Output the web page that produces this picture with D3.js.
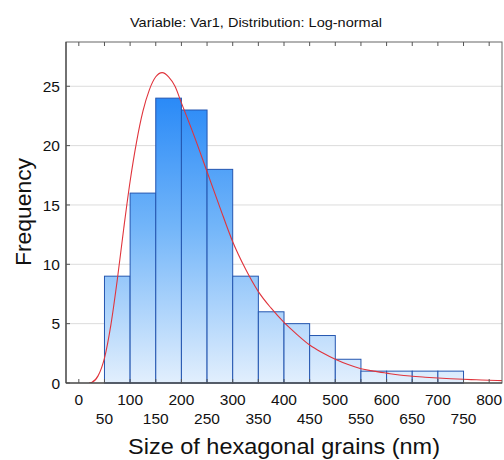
<!DOCTYPE html>
<html><head><meta charset="utf-8">
<script src="https://cdn.jsdelivr.net/npm/d3@7"></script>
<style>body{margin:0;background:#fff}svg{display:block}text{font-family:"Liberation Sans",Arial,sans-serif;fill:#111}</style>
</head><body><svg id="c" width="504" height="460"></svg>
<script>
const binStarts = [50,100,150,200,250,300,350,400,450,500,550,600,650,700];
const binWidth = 50;
const counts = [9,16,24,23,18,9,6,5,4,2,1,1,1,1];
const curveX = [20,25,37.5,50,62.5,75,87.5,100,112.5,125,137.5,150,162.5,175,187.5,200,225,250,275,300,325,350,375,400,425,450,475,500,525,550,575,600,625,650,675,700,725,750,775,800,825];
const curveY = [0,0.05,0.6,2.1,4.9,8.7,13.0,17.0,20.3,22.9,24.7,25.8,26.15,25.8,25.0,23.6,20.8,17.8,14.8,11.9,9.6,7.7,6.3,5.1,4.1,3.2,2.55,2.0,1.55,1.2,1.0,0.83,0.67,0.57,0.49,0.42,0.36,0.31,0.27,0.23,0.2];
const xTicksTop = [0,100,200,300,400,500,600,700,800];
const xTicksBottom = [50,150,250,350,450,550,650,750];
const yTicks = [0,5,10,15,20,25];

const svg = d3.select("#c");
const L=66, T=42, R=502, B=383;
const x = d3.scaleLinear().domain([-25,825]).range([L,R]);
const y = d3.scaleLinear().domain([0,28.73]).range([B,T]);

const defs = svg.append("defs");
const g = defs.append("linearGradient").attr("id","bg").attr("gradientUnits","userSpaceOnUse")
  .attr("x1",0).attr("x2",0).attr("y1",y(24)).attr("y2",y(0));
g.append("stop").attr("offset","0%").attr("stop-color","#2a8af7");
g.append("stop").attr("offset","45%").attr("stop-color","#72b5f9");
g.append("stop").attr("offset","100%").attr("stop-color","#e2effd");
defs.append("clipPath").attr("id","clip").append("rect").attr("x",L).attr("y",T).attr("width",R-L).attr("height",B-T);

// grid
svg.append("g").selectAll("line").data(yTicks.filter(d=>d>0)).join("line")
  .attr("x1",L).attr("x2",R).attr("y1",d=>y(d)).attr("y2",d=>y(d))
  .attr("stroke","#dcdcdc").attr("stroke-width",1);

// bars
svg.append("g").selectAll("rect").data(binStarts).join("rect")
  .attr("x",(d)=>x(d)).attr("width",d=>x(d+binWidth)-x(d))
  .attr("y",(d,i)=>y(counts[i])).attr("height",(d,i)=>y(0)-y(counts[i]))
  .attr("fill","url(#bg)").attr("stroke","#2456b0").attr("stroke-width",1);

// curve
const pts = curveX.map((v,i)=>[v,curveY[i]]);
svg.append("path").datum(pts).attr("clip-path","url(#clip)")
  .attr("d",d3.line().x(d=>x(d[0])).y(d=>y(d[1])).curve(d3.curveMonotoneX))
  .attr("fill","none").attr("stroke","#e0343c").attr("stroke-width",1.1);

// frame
svg.append("rect").attr("x",L).attr("y",T).attr("width",R-L).attr("height",B-T)
  .attr("fill","none").attr("stroke","#666").attr("stroke-width",1);
svg.append("line").attr("x1",L).attr("x2",L).attr("y1",T).attr("y2",B).attr("stroke","#333");
svg.append("line").attr("x1",L).attr("x2",R).attr("y1",B).attr("y2",B).attr("stroke","#333");

// ticks
const allX = d3.range(0,801,50);
svg.append("g").selectAll("line").data(allX).join("line")
  .attr("x1",d=>x(d)).attr("x2",d=>x(d)).attr("y1",B).attr("y2",B-4).attr("stroke","#555");
svg.append("g").selectAll("line").data(allX).join("line")
  .attr("x1",d=>x(d)).attr("x2",d=>x(d)).attr("y1",T).attr("y2",T+4).attr("stroke","#555");
svg.append("g").selectAll("line").data(yTicks).join("line")
  .attr("x1",L).attr("x2",L+4).attr("y1",d=>y(d)).attr("y2",d=>y(d)).attr("stroke","#555");

// tick labels
svg.append("g").selectAll("text").data(yTicks).join("text")
  .attr("x",L-6).attr("y",d=>y(d)).attr("dy","0.36em").attr("text-anchor","end")
  .attr("font-size",15.5).text(d=>d);
svg.append("g").selectAll("text").data(xTicksTop).join("text")
  .attr("x",d=>x(d)).attr("y",405).attr("text-anchor","middle").attr("font-size",15.5).text(d=>d);
svg.append("g").selectAll("text").data(xTicksBottom).join("text")
  .attr("x",d=>x(d)).attr("y",424).attr("text-anchor","middle").attr("font-size",15.5).text(d=>d);

// titles
svg.append("text").attr("x",256).attr("y",27).attr("text-anchor","middle").attr("font-size",13)
  .attr("textLength",252).attr("lengthAdjust","spacingAndGlyphs")
  .text("Variable: Var1, Distribution: Log-normal");
svg.append("text").attr("x",284).attr("y",454).attr("text-anchor","middle").attr("font-size",22)
  .attr("textLength",312).attr("lengthAdjust","spacingAndGlyphs")
  .text("Size of hexagonal grains (nm)");
svg.append("text").attr("transform","translate(31,212) rotate(-90)").attr("text-anchor","middle").attr("font-size",22)
  .attr("textLength",108).attr("lengthAdjust","spacingAndGlyphs")
  .text("Frequency");
</script></body></html>
